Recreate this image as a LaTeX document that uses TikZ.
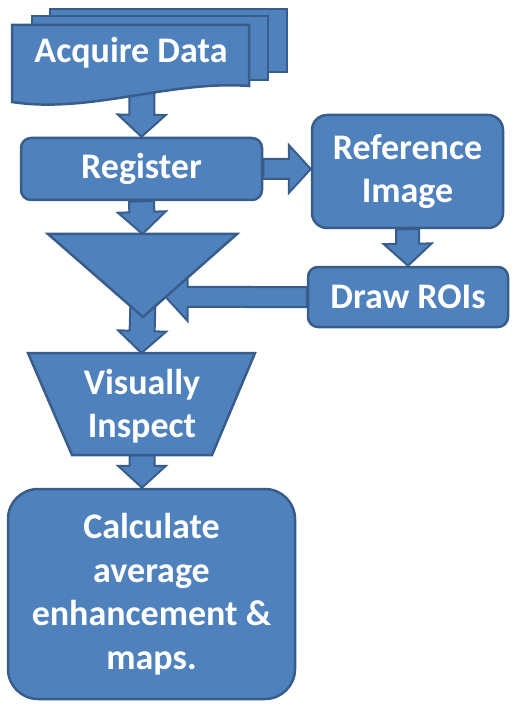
\documentclass[tikz,border=0pt]{standalone}
\usepackage{fontspec}
\setmainfont{Carlito}
\usetikzlibrary{calc,backgrounds}

\definecolor{boxfill}{HTML}{4F81BD}
\definecolor{boxline}{HTML}{385D8A}

\newcommand{\blkarrow}[3][11]{%
  \draw[blk] let \p1=(#2), \p2=(#3), \n1={atan2(\y2-\y1,\x2-\x1)}, \n2={veclen(\x2-\x1,\y2-\y1)} in
    [shift={(\p1)}, rotate=\n1]
    (0pt,-#1pt) -- (\n2*1pt-22pt,-#1pt) -- (\n2*1pt-22pt,-24pt) -- (\n2*1pt,0pt)
    -- (\n2*1pt-22pt,24pt) -- (\n2*1pt-22pt,#1pt) -- (0pt,#1pt) -- cycle;}

\begin{document}
\begin{tikzpicture}[x=1pt,y=-1pt,
    shp/.style={fill=boxfill,draw=boxline,line width=2.5pt},
    txt/.style={text=white,font=\bfseries\fontsize{36}{43.5}\selectfont,align=center,inner sep=0pt},
    box/.style={shp,txt,rounded corners=#1},
    box/.default=10pt,
    blk/.style={shp,line width=2pt}]
    \useasboundingbox(0,0)rectangle(517,708);

    \draw[shp](50,9)rectangle(287,72);
    \draw[shp](32,16)rectangle(268,80);
    \draw[shp](12,25)--(249,25)--(249,86)..controls(170,80)and(90,114)..(12,102)--cycle;
    \node[txt](acq)at(131,53){Acquire Data};
    \coordinate(acqb)at(142,92);

    \node[box,minimum width=241pt,minimum height=62pt](reg)at(141.5,169){Register};
    \node[box=15pt,minimum width=191pt,minimum height=113pt](ref)at(407.5,171.5){Reference\\Image};
    \node[box,minimum width=200pt,minimum height=60pt](roi)at(408,297){Draw ROIs};

    \coordinate(m1)at(48,234);
    \coordinate(m2)at(237,234);
    \coordinate(mtip)at(143,317);
    \draw[shp](m1)--(m2)--(mtip)--cycle;
    \coordinate(mtop)at($(m1)!0.5!(m2)$);
    \coordinate(mhit)at(intersection of m2--mtip and roi.west--roi.east);

    \coordinate(v1)at(28,353);
    \coordinate(v2)at(255,353);
    \coordinate(v3)at(212,455);
    \coordinate(v4)at(72,455);
    \draw[shp](v1)--(v2)--(v3)--(v4)--cycle;
    \node[txt](insp)at(142,406){Visually\\Inspect};
    \coordinate(vtop)at($(v1)!0.5!(v2)$);
    \coordinate(vbot)at($(v4)!0.5!(v3)$);

    \node[box=30pt,minimum width=287pt,minimum height=210pt](calc)at(151.5,594){Calculate\\average\\enhancement \&\\maps.};

    \begin{scope}[on background layer]
    \blkarrow[12.5]{acqb}{reg.north}
    \blkarrow[10]{reg.east}{reg.east-|ref.west}
    \blkarrow[11.5]{ref.south}{roi.north}
    \blkarrow[10]{roi.west}{mhit}
    \blkarrow[12.5]{reg.south}{mtop}
    \blkarrow[12.5]{$(mtip)+(0,-17)$}{vtop}
    \blkarrow[12.5]{vbot}{vbot|-calc.north}
    \end{scope}
\end{tikzpicture}
\end{document}
